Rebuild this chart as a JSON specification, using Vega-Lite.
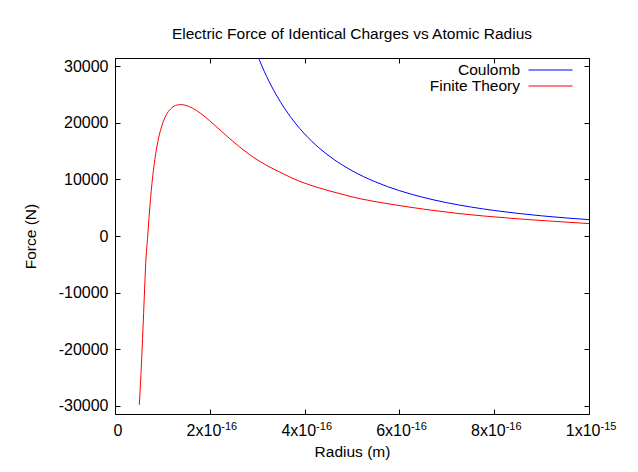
{
  "$schema": "https://vega.github.io/schema/vega-lite/v6.json",
  "width": 474,
  "height": 356,
  "autosize": {"type": "none"},
  "padding": {"left": 115, "top": 58, "right": 49, "bottom": 58},
  "background": "white",
  "title": {"text": "Electric Force of Identical Charges vs Atomic Radius", "fontSize": 15.5, "fontWeight": "normal", "font": "Liberation Sans", "color": "#000", "offset": 5, "anchor": "middle"},
  "datasets": {
    "finite": [
      {"r": 5.13e-17, "F": -29870, "series": "Finite Theory"},
      {"r": 5.59e-17, "F": -22520, "series": "Finite Theory"},
      {"r": 5.89e-17, "F": -16640, "series": "Finite Theory"},
      {"r": 6.18e-17, "F": -10760, "series": "Finite Theory"},
      {"r": 6.48e-17, "F": -4870, "series": "Finite Theory"},
      {"r": 6.9e-17, "F": 0, "series": "Finite Theory"},
      {"r": 7.2e-17, "F": 3480, "series": "Finite Theory"},
      {"r": 7.5e-17, "F": 6640, "series": "Finite Theory"},
      {"r": 7.8e-17, "F": 9310, "series": "Finite Theory"},
      {"r": 8.2e-17, "F": 12250, "series": "Finite Theory"},
      {"r": 8.6e-17, "F": 14620, "series": "Finite Theory"},
      {"r": 9.2e-17, "F": 17340, "series": "Finite Theory"},
      {"r": 1.0e-16, "F": 19820, "series": "Finite Theory"},
      {"r": 1.1e-16, "F": 21700, "series": "Finite Theory"},
      {"r": 1.2e-16, "F": 22700, "series": "Finite Theory"},
      {"r": 1.3e-16, "F": 23150, "series": "Finite Theory"},
      {"r": 1.384e-16, "F": 23250, "series": "Finite Theory"},
      {"r": 1.47e-16, "F": 23170, "series": "Finite Theory"},
      {"r": 1.55e-16, "F": 22960, "series": "Finite Theory"},
      {"r": 1.724e-16, "F": 22180, "series": "Finite Theory"},
      {"r": 2.074e-16, "F": 19830, "series": "Finite Theory"},
      {"r": 2.426e-16, "F": 17190, "series": "Finite Theory"},
      {"r": 2.848e-16, "F": 14360, "series": "Finite Theory"},
      {"r": 3.059e-16, "F": 13180, "series": "Finite Theory"},
      {"r": 3.481e-16, "F": 11290, "series": "Finite Theory"},
      {"r": 3.903e-16, "F": 9650, "series": "Finite Theory"},
      {"r": 4.325e-16, "F": 8470, "series": "Finite Theory"},
      {"r": 4.747e-16, "F": 7480, "series": "Finite Theory"},
      {"r": 5.169e-16, "F": 6600, "series": "Finite Theory"},
      {"r": 5.802e-16, "F": 5650, "series": "Finite Theory"},
      {"r": 6.646e-16, "F": 4600, "series": "Finite Theory"},
      {"r": 7.278e-16, "F": 3950, "series": "Finite Theory"},
      {"r": 8.263e-16, "F": 3200, "series": "Finite Theory"},
      {"r": 9.247e-16, "F": 2600, "series": "Finite Theory"},
      {"r": 1.0e-15, "F": 2200, "series": "Finite Theory"}
    ],
    "coulomb": [
      {"r": 2.9e-16, "F": 34364, "series": "Coulomb"},
      {"r": 3.0e-16, "F": 32111, "series": "Coulomb"},
      {"r": 3.1e-16, "F": 30073, "series": "Coulomb"},
      {"r": 3.2e-16, "F": 28223, "series": "Coulomb"},
      {"r": 3.3e-16, "F": 26538, "series": "Coulomb"},
      {"r": 3.4e-16, "F": 25000, "series": "Coulomb"},
      {"r": 3.6e-16, "F": 22299, "series": "Coulomb"},
      {"r": 3.8e-16, "F": 20014, "series": "Coulomb"},
      {"r": 4.0e-16, "F": 18063, "series": "Coulomb"},
      {"r": 4.3e-16, "F": 15630, "series": "Coulomb"},
      {"r": 4.6e-16, "F": 13658, "series": "Coulomb"},
      {"r": 5.0e-16, "F": 11560, "series": "Coulomb"},
      {"r": 5.5e-16, "F": 9554, "series": "Coulomb"},
      {"r": 6.0e-16, "F": 8028, "series": "Coulomb"},
      {"r": 6.5e-16, "F": 6840, "series": "Coulomb"},
      {"r": 7.0e-16, "F": 5898, "series": "Coulomb"},
      {"r": 7.5e-16, "F": 5138, "series": "Coulomb"},
      {"r": 8.0e-16, "F": 4516, "series": "Coulomb"},
      {"r": 8.5e-16, "F": 4000, "series": "Coulomb"},
      {"r": 9.0e-16, "F": 3568, "series": "Coulomb"},
      {"r": 9.5e-16, "F": 3202, "series": "Coulomb"},
      {"r": 1.0e-15, "F": 2890, "series": "Coulomb"}
    ]
  },
  "resolve": {"axis": {"x": "independent", "y": "independent"}, "scale": {"color": "independent"}, "legend": {"color": "independent"}},
  "layer": [
    {
      "mark": {"type": "rule", "color": "#000", "strokeWidth": 1},
      "encoding": {
        "x": {"datum": 0, "type": "quantitative",
              "scale": {"domain": [0, 1e-15], "nice": false, "zero": false},
              "axis": {"orient": "top", "values": [0, 2e-16, 4e-16, 6e-16, 8e-16, 1e-15], "labels": false, "title": null}},
        "x2": {"datum": 1e-15},
        "y": {"datum": 0, "type": "quantitative",
              "scale": {"domain": [-31500, 31500], "nice": false, "zero": false},
              "axis": {"orient": "right", "values": [-30000, -20000, -10000, 0, 10000, 20000, 30000], "labels": false, "title": null}}
      }
    },
    {
      "data": {"name": "finite"},
      "mark": {"type": "line", "strokeWidth": 1, "interpolate": "monotone", "clip": true},
      "encoding": {
        "x": {"field": "r", "type": "quantitative", "title": "Radius (m)",
              "scale": {"domain": [0, 1e-15], "nice": false, "zero": false},
              "axis": {"orient": "bottom", "values": [0, 2e-16, 4e-16, 6e-16, 8e-16, 1e-15],
                       "labelAlign": "right",
                       "labelOffset": {"condition": {"test": "datum.value == 0", "value": 7}, "value": 11},
                       "labelExpr": "datum.value == 0 ? '0' : (datum.value > 9e-16 ? '1x10' : round(datum.value * 1e16) + 'x10')"}},
        "y": {"field": "F", "type": "quantitative", "title": "Force (N)",
              "scale": {"domain": [-31500, 31500], "nice": false, "zero": false},
              "axis": {"orient": "left", "values": [-30000, -20000, -10000, 0, 10000, 20000, 30000], "labelExpr": "'' + datum.value"}},
        "color": {"field": "series", "type": "nominal",
                  "scale": {"domain": ["Finite Theory"], "range": ["#ff0000"]},
                  "legend": {"title": null, "legendX": 413, "legendY": 5.5}}
      }
    },
    {
      "data": {"name": "coulomb"},
      "mark": {"type": "line", "strokeWidth": 1, "interpolate": "monotone", "clip": true},
      "encoding": {
        "x": {"field": "r", "type": "quantitative", "title": null,
              "scale": {"domain": [0, 1e-15], "nice": false, "zero": false},
              "axis": {"orient": "bottom", "values": [0, 2e-16, 4e-16, 6e-16, 8e-16, 1e-15], "title": null,
                       "ticks": false, "domain": false, "labelAlign": "left", "labelOffset": 11,
                       "labelFontSize": 11, "labelPadding": 6,
                       "labelExpr": "datum.value == 0 ? '' : (datum.value > 9e-16 ? '-15' : '-16')"}},
        "y": {"field": "F", "type": "quantitative", "title": null,
              "scale": {"domain": [-31500, 31500], "nice": false, "zero": false},
              "axis": null},
        "color": {"field": "series", "type": "nominal",
                  "scale": {"domain": ["Coulomb"], "range": ["#0000ff"]},
                  "legend": {"title": null, "legendX": 413, "legendY": -10.5}}
      }
    }
  ],
  "config": {
    "font": "Liberation Sans",
    "view": {"stroke": null},
    "axis": {
      "grid": false,
      "domainColor": "#000",
      "domainWidth": 1,
      "tickColor": "#000",
      "tickSize": -5,
      "tickWidth": 1,
      "labelFont": "Liberation Sans",
      "labelFontSize": 16,
      "labelColor": "#000",
      "labelFlush": false,
      "labelOverlap": false,
      "titleFont": "Liberation Sans",
      "titleFontSize": 15.5,
      "titleFontWeight": "normal",
      "titleColor": "#000"
    },
    "axisX": {"labelPadding": 13, "titlePadding": 6, "labelBaseline": "top"},
    "axisY": {"labelPadding": 12, "titlePadding": 20},
    "legend": {
      "orient": "none",
      "symbolType": "stroke",
      "symbolSize": 1936,
      "symbolStrokeWidth": 1,
      "labelAlign": "right",
      "labelOffset": -53,
      "labelFontSize": 15.5,
      "labelFont": "Liberation Sans",
      "labelColor": "#000"
    }
  }
}
